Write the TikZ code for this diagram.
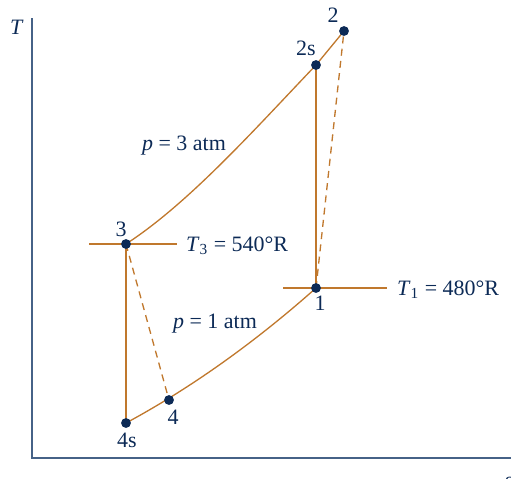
\documentclass[tikz,border=0pt]{standalone}
\usepackage{fontspec}
\setmainfont{Liberation Serif}
\usepackage{xcolor}
\usetikzlibrary{arrows.meta, positioning}
\definecolor{cyclecol}{RGB}{192,120,45}
\definecolor{axiscol}{RGB}{70,98,135}
\definecolor{inkcol}{RGB}{12,42,86}
\begin{document}
\begin{tikzpicture}[x=0.02cm, y=-0.02cm, font=\fontsize{12.5}{15}\selectfont, text=inkcol,
    cycleline/.style={draw=cyclecol, line width=0.75pt},
    dashline/.style={cycleline, dash pattern=on 4pt off 3pt},
    statept/.style={circle, fill=inkcol, inner sep=0pt, minimum size=5.6pt}]
  \useasboundingbox (0,0) rectangle (511,478);
  % Axes
  \coordinate (org) at (32,458);
  \coordinate (ttop) at (32,18);
  \coordinate (send) at (511,458);
  \draw[axiscol, line width=1.1pt] (ttop) -- (org) -- (send);
  \node (tlab) at (17,27) {\textit{T}};
  \node (slab) at (509,482) {\textit{s}};
  % State coordinates
  \coordinate (c2) at (344,31);
  \coordinate (c2s) at (316,65);
  \coordinate (c3) at (126,244);
  \coordinate (c1) at (316,288);
  \coordinate (c4) at (169,400);
  \coordinate (c4s) at (126,423);
  % Isotherms
  \coordinate (iso3a) at (89,244);
  \coordinate (iso3b) at (177,244);
  \coordinate (iso1a) at (283,288);
  \coordinate (iso1b) at (387,288);
  \draw[cycleline] (iso3a) -- (iso3b);
  \draw[cycleline] (iso1a) -- (iso1b);
  % Constant pressure lines
  \draw[cycleline] (c3) .. controls (189,203) and (253,131) .. (c2s) -- (c2);
  \draw[cycleline] (c4s) .. controls (189,389) and (253,344) .. (c1);
  % Compression and expansion
  \draw[cycleline] (c1) -- (c2s);
  \draw[cycleline] (c3) -- (c4s);
  \draw[dashline] (c1) -- (c2);
  \draw[dashline] (c3) -- (c4);
  % State points
  \node[statept] (p2) at (c2) {};
  \node[statept] (p2s) at (c2s) {};
  \node[statept] (p3) at (c3) {};
  \node[statept] (p1) at (c1) {};
  \node[statept] (p4) at (c4) {};
  \node[statept] (p4s) at (c4s) {};
  \node (l2) at (333,15) {2};
  \node (l2s) at (306,48) {2s};
  \node (l3) at (121,229) {3};
  \node (l1) at (320,303) {1};
  \node (l4) at (173,417) {4};
  \node (l4s) at (127,440) {4s};
  % Labels
  \node (phigh) at (184,146) {\textit{p} = 3 atm};
  \node (plow) at (215,324) {\textit{p} = 1 atm};
  \node[right] (t3lab) at (180,246) {\textit{T}\textsubscript{3} = 540°R};
  \node[right] (t1lab) at (391,290) {\textit{T}\textsubscript{1} = 480°R};
\end{tikzpicture}
\end{document}
